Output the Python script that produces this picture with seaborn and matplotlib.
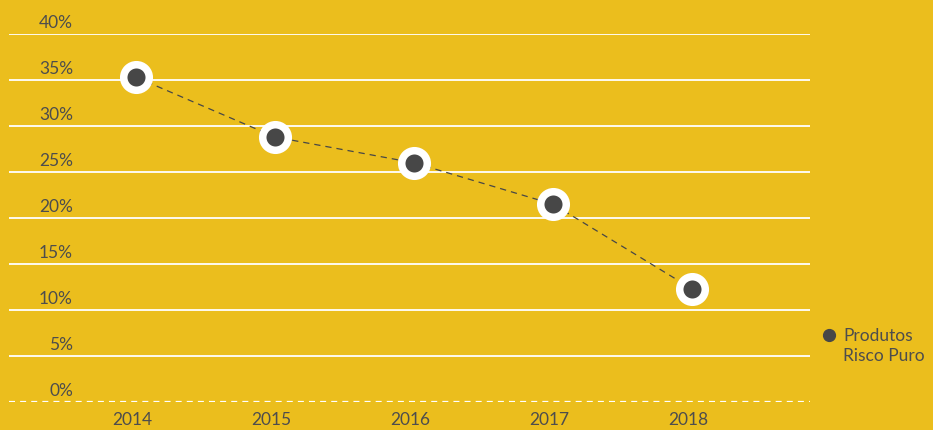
import matplotlib
matplotlib.use("Agg")
import matplotlib.pyplot as plt
import matplotlib.transforms as mtransforms
from matplotlib.lines import Line2D
import seaborn as sns
import pandas as pd

years = ["2014", "2015", "2016", "2017", "2018"]
values = [35.3, 28.8, 26.0, 21.5, 12.3]
y_ticks = [0, 5, 10, 15, 20, 25, 30, 35, 40]
y_tick_labels = ["0%", "5%", "10%", "15%", "20%", "25%", "30%", "35%", "40%"]
series_name = "Produtos\nRisco Puro"

BG = "#EBBE1D"
TXT = "#4D4D4D"
DOT = "#474747"

sns.set_style("white")
plt.rcParams["font.family"] = ["Lato", "DejaVu Sans"]
FS = 12.5

W, H = 933, 430
fig = plt.figure(figsize=(W / 100, H / 100), dpi=100, facecolor=BG)
left, right, top, bottom = 9, 810, 34, 402
ax = fig.add_axes([left / W, 1 - bottom / H, (right - left) / W, (bottom - top) / H])
ax.set_facecolor(BG)
for s in ax.spines.values():
    s.set_visible(False)

df = pd.DataFrame({"x": range(len(years)), "year": years, "value": values})

# gridlines
for t in y_ticks:
    if t == 0:
        ax.axhline(t, color="white", lw=1.6, ls=(0, (2.7, 2.3)), zorder=1)
    else:
        ax.axhline(t, color="white", lw=1.3, zorder=1)

sns.lineplot(data=df, x="x", y="value", ax=ax, color=DOT, lw=0.9,
             linestyle=(0, (5, 4)), marker="o", markersize=18.4,
             markerfacecolor=DOT, markeredgecolor="white", markeredgewidth=5.4,
             zorder=3)

ax.set_xlim(-0.914, 4.849)
ax.set_ylim(0, 40)
ax.set_xlabel("")
ax.set_ylabel("")

ax.set_xticks(range(len(years)))
ax.set_xticklabels(years)
ax.tick_params(axis="x", length=0, pad=7.5, labelsize=FS, labelcolor=TXT)
for lbl in ax.get_xticklabels():
    lbl.set_transform(lbl.get_transform() + mtransforms.ScaledTranslation(-4 / 100, 0, fig.dpi_scale_trans))
ax.set_yticks([])

trans = mtransforms.blended_transform_factory(ax.transAxes, ax.transData)
off = mtransforms.ScaledTranslation(0, 11 / 100, fig.dpi_scale_trans)
for t, lab in zip(y_ticks, y_tick_labels):
    ax.text((73 - left) / (right - left), t, lab, transform=trans + off,
            ha="right", va="center", fontsize=FS, color=TXT, clip_on=False)

# legend
fig.add_artist(Line2D([829 / W], [1 - 335 / H], marker="o", markersize=8.5,
                      color=DOT, linestyle="none", transform=fig.transFigure))
fig.text(843 / W, 1 - 346 / H, series_name, ha="left", va="center",
         fontsize=FS, color=TXT, linespacing=1.35)

fig.savefig("out.png", dpi=100, facecolor=BG)
